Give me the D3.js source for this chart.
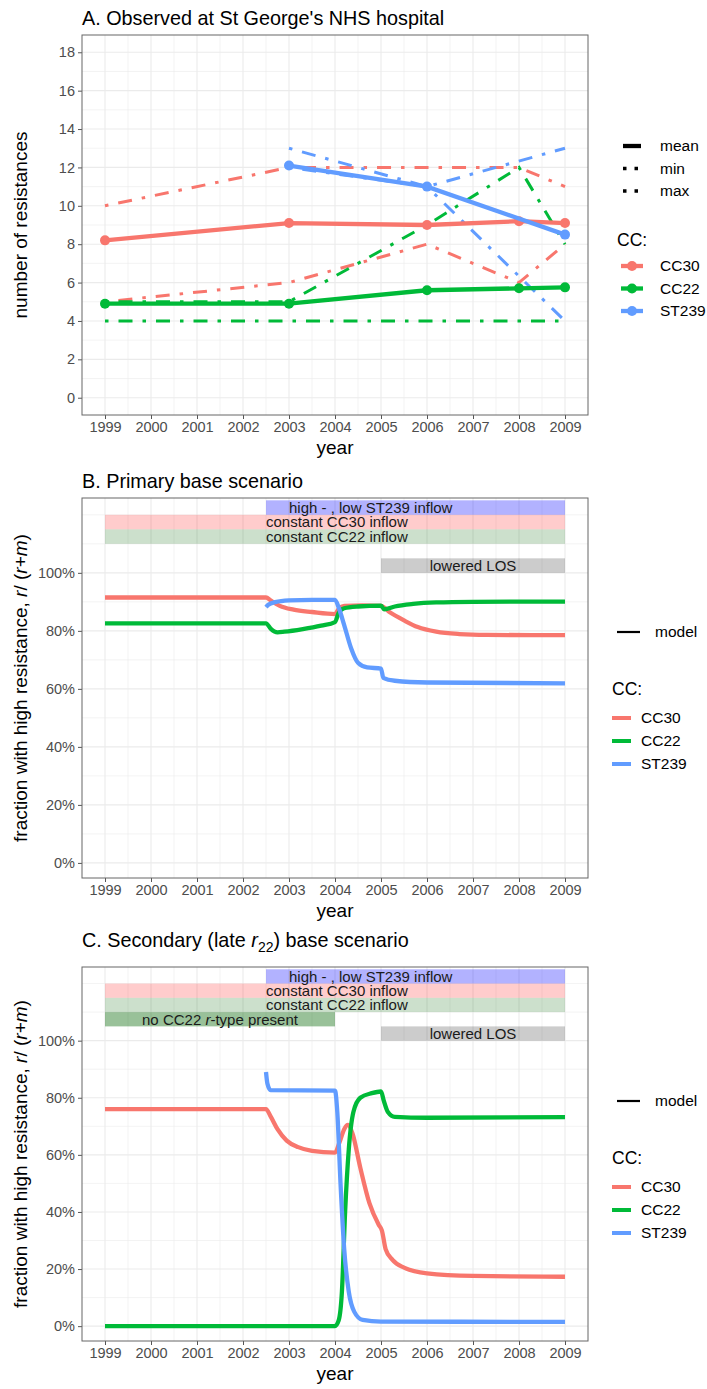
<!DOCTYPE html>
<html>
<head>
<meta charset="utf-8">
<script src="https://cdn.jsdelivr.net/npm/d3@7"></script>
<style>
  body { margin: 0; background: #fff; }
  text { font-family: "Liberation Sans", Arial, sans-serif; }
</style>
</head>
<body>
<div id="viz"></div>
<script>
// ---------- tick labels ----------
const yearTicks = [1999, 2000, 2001, 2002, 2003, 2004, 2005, 2006, 2007, 2008, 2009]
const countTicks = [0, 2, 4, 6, 8, 10, 12, 14, 16, 18]
const pctTicks = [0, 0.2, 0.4, 0.6, 0.8, 1.0]

const ccNames = ["CC30", "CC22", "ST239"]
const statNames = ["mean", "min", "max"]

// ---------- A. observed number of resistances ----------
const cc30Years = [1999, 2003, 2006, 2008, 2009]
const cc30Mean = [8.2, 9.1, 9.0, 9.2, 9.1]
const cc30Min = [5, 6, 8, 6, 8]
const cc30Max = [10, 12, 12, 12, 11]

const cc22Years = [1999, 2003, 2006, 2008, 2009]
const cc22Mean = [4.9, 4.9, 5.6, 5.7, 5.75]
const cc22Min = [4, 4, 4, 4, 4]
const cc22Max = [5, 5, 9, 12, 8]

const st239Years = [2003, 2006, 2009]
const st239Mean = [12.1, 11.0, 8.5]
const st239Min = [12, 11, 4]
const st239Max = [13, 11, 13]

// ---------- B. primary base scenario (model) ----------
const primaryCC30 = [[1999, 0.915], [2002.5, 0.915], [2002.6, 0.905], [2002.8, 0.886], [2003.1, 0.873],
  [2003.5, 0.865], [2004.0, 0.858], [2004.08, 0.875], [2004.2, 0.886], [2004.6, 0.888], [2005.0, 0.886],
  [2005.2, 0.863], [2005.5, 0.836], [2005.8, 0.813], [2006.2, 0.797], [2006.7, 0.789], [2007.3, 0.786], [2009, 0.785]]
const primaryCC22 = [[1999, 0.826], [2002.5, 0.826], [2002.6, 0.808], [2002.75, 0.795], [2002.9, 0.797],
  [2003.3, 0.806], [2003.7, 0.818], [2004.0, 0.830], [2004.08, 0.862], [2004.2, 0.878], [2004.5, 0.884],
  [2005.0, 0.887], [2005.07, 0.874], [2005.3, 0.884], [2005.7, 0.893], [2006.2, 0.898], [2007, 0.900], [2009, 0.901]]
const primaryST239 = [[2002.5, 0.882], [2002.55, 0.89], [2002.7, 0.899], [2003.0, 0.905], [2003.5, 0.907],
  [2004.0, 0.907], [2004.08, 0.88], [2004.2, 0.82], [2004.35, 0.74], [2004.5, 0.69], [2004.7, 0.674],
  [2005.0, 0.670], [2005.05, 0.638], [2005.3, 0.628], [2006, 0.622], [2009, 0.619]]

// ---------- C. secondary (late r22) base scenario (model) ----------
const secondaryCC30 = [[1999, 0.76], [2002.5, 0.76], [2002.6, 0.735], [2002.75, 0.69], [2002.95, 0.65],
  [2003.2, 0.627], [2003.5, 0.614], [2004.0, 0.608], [2004.1, 0.645], [2004.2, 0.69], [2004.28, 0.705],
  [2004.38, 0.675], [2004.55, 0.555], [2004.75, 0.43], [2004.95, 0.355], [2005.02, 0.335], [2005.1, 0.27],
  [2005.25, 0.232], [2005.5, 0.205], [2006.0, 0.185], [2007.0, 0.176], [2009, 0.173]]
const secondaryCC22 = [[1999, 0.0], [2004.0, 0.0], [2004.08, 0.02], [2004.15, 0.12], [2004.22, 0.4],
  [2004.3, 0.62], [2004.4, 0.75], [2004.55, 0.8], [2004.8, 0.816], [2005.0, 0.822], [2005.06, 0.79],
  [2005.15, 0.75], [2005.3, 0.733], [2006, 0.73], [2009, 0.732]]
const secondaryST239 = [[2002.5, 0.89], [2002.53, 0.85], [2002.6, 0.827], [2004.0, 0.825], [2004.05, 0.75],
  [2004.12, 0.5], [2004.2, 0.27], [2004.3, 0.12], [2004.42, 0.05], [2004.6, 0.022], [2005.0, 0.016], [2009, 0.015]]

// ---------- scenario bands (years, fraction) ----------
const bandText = ["high - , low ST239 inflow", "constant CC30 inflow", "constant CC22 inflow",
  "no CC22 r-type present", "lowered LOS"]
const bandFrom = [2002.5, 1999, 1999, 1999, 2005]
const bandTo = [2009, 2009, 2009, 2004, 2009]
const bandLow = [1.20, 1.15, 1.10, 1.05, 1.00]
const bandHigh = [1.25, 1.20, 1.15, 1.10, 1.05]
const bandLabelAt = [2003, 2002.5, 2002.5, 2001.5, 2007]

// ---------- styles ----------
const ccColors = ["#F8766D", "#00BA38", "#619CFF"]
const bandFill = ["rgba(0,0,255,0.3)", "rgba(255,0,0,0.2)", "rgba(0,100,0,0.2)", "rgba(0,100,0,0.4)", "rgba(0,0,0,0.2)"]
const bandAnchor = ["start", "start", "start", "middle", "middle"]
const dotdash = "3.5,10,14,10"

const width = 707
const height = 1389

const svg = d3.select("#viz").append("svg")
    .attr("width", width)
    .attr("height", height)

svg.append("rect").attr("width", width).attr("height", height).attr("fill", "#fff")

const x = d3.scaleLinear().domain([1998.5, 2009.5]).range([82, 588])
const xMinor = yearTicks.slice(0, -1).map(d => d + 0.5)

const yA = d3.scaleLinear().domain([-0.9, 18.9]).range([415, 35])
const yB = d3.scaleLinear().domain([-0.052, 1.258]).range([878, 498])
const yC = d3.scaleLinear().domain([-0.052, 1.258]).range([1341, 967])

const countMinor = [1, 3, 5, 7, 9, 11, 13, 15, 17]
const pctMinor = [0.1, 0.3, 0.5, 0.7, 0.9, 1.1, 1.2]

// grid and axes of one panel
function drawFrame(y, yTicks, yMinor, yFormat) {
    const [bottom, top] = y.range()
    const g = svg.append("g")

    g.selectAll("line.vmin").data(xMinor).join("line").attr("class", "vmin")
        .attr("x1", d => x(d)).attr("x2", d => x(d)).attr("y1", top).attr("y2", bottom)
        .attr("stroke", "#EBEBEB").attr("stroke-width", 0.6)
    g.selectAll("line.hmin").data(yMinor).join("line").attr("class", "hmin")
        .attr("x1", 82).attr("x2", 588).attr("y1", d => y(d)).attr("y2", d => y(d))
        .attr("stroke", "#EBEBEB").attr("stroke-width", 0.6)
    g.selectAll("line.vmaj").data(yearTicks).join("line").attr("class", "vmaj")
        .attr("x1", d => x(d)).attr("x2", d => x(d)).attr("y1", top).attr("y2", bottom)
        .attr("stroke", "#EBEBEB").attr("stroke-width", 1.1)
    g.selectAll("line.hmaj").data(yTicks).join("line").attr("class", "hmaj")
        .attr("x1", 82).attr("x2", 588).attr("y1", d => y(d)).attr("y2", d => y(d))
        .attr("stroke", "#EBEBEB").attr("stroke-width", 1.1)

    const xAxis = svg.append("g").attr("transform", `translate(0,${bottom})`)
        .call(d3.axisBottom(x).tickValues(yearTicks).tickFormat(d3.format("d")).tickSize(4).tickPadding(3))
    const yAxis = svg.append("g").attr("transform", "translate(82,0)")
        .call(d3.axisLeft(y).tickValues(yTicks).tickFormat(yFormat).tickSize(4).tickPadding(3))
    for (const ax of [xAxis, yAxis]) {
        ax.attr("font-family", null).attr("font-size", null)
        ax.select(".domain").remove()
        ax.selectAll(".tick line").attr("stroke", "#555")
        ax.selectAll(".tick text").attr("fill", "#4D4D4D").style("font-size", "14.5px")
    }
    return g
}

function drawBorder(y) {
    const [bottom, top] = y.range()
    svg.append("rect").attr("x", 82).attr("y", top).attr("width", 506).attr("height", bottom - top)
        .attr("fill", "none").attr("stroke", "#666").attr("stroke-width", 1)
}

function title(yPos, txt) {
    return svg.append("text").attr("x", 82).attr("y", yPos)
        .style("font-size", "19.8px").attr("fill", "#000").text(txt)
}

function xTitle(y) {
    svg.append("text").attr("x", 335).attr("y", y.range()[0] + 39)
        .attr("text-anchor", "middle").style("font-size", "19px").text("year")
}

// ================= Panel A =================
title(24.5, "A. Observed at St George's NHS hospital")
drawFrame(yA, countTicks, countMinor, d3.format("d"))

const obs = [
    { years: cc30Years, mean: cc30Mean, min: cc30Min, max: cc30Max },
    { years: cc22Years, mean: cc22Mean, min: cc22Min, max: cc22Max },
    { years: st239Years, mean: st239Mean, min: st239Min, max: st239Max }
]
const lineA = d3.line().x(d => x(d[0])).y(d => yA(d[1]))

const gA = svg.append("g")
obs.forEach((o, i) => {
    for (const s of ["max", "min"]) {
        gA.append("path").datum(d3.zip(o.years, o[s]))
            .attr("d", lineA).attr("fill", "none")
            .attr("stroke", ccColors[i]).attr("stroke-width", 3)
            .attr("stroke-dasharray", dotdash)
    }
})
obs.forEach((o, i) => {
    gA.append("path").datum(d3.zip(o.years, o.mean))
        .attr("d", lineA).attr("fill", "none")
        .attr("stroke", ccColors[i]).attr("stroke-width", 4.3)
    gA.selectAll(null).data(d3.zip(o.years, o.mean)).join("circle")
        .attr("cx", d => x(d[0])).attr("cy", d => yA(d[1])).attr("r", 5)
        .attr("fill", ccColors[i])
})
drawBorder(yA)

svg.append("text").attr("transform", "translate(27,225) rotate(-90)")
    .attr("text-anchor", "middle").style("font-size", "19px").text("number of resistances")
xTitle(yA)

// legend A
const legA = svg.append("g")
legA.selectAll("line.stat").data(statNames).join("line").attr("class", "stat")
    .attr("x1", 623).attr("x2", 641)
    .attr("y1", (d, i) => 146 + i * 22.5).attr("y2", (d, i) => 146 + i * 22.5)
    .attr("stroke", "#000").attr("stroke-width", (d, i) => i === 0 ? 4.3 : 3.5)
    .attr("stroke-dasharray", (d, i) => i === 0 ? null : "3.5,8,3.5,20")
legA.selectAll("text.stat").data(statNames).join("text").attr("class", "stat")
    .attr("x", 660).attr("y", (d, i) => 146 + i * 22.5).attr("dy", "0.35em")
    .style("font-size", "15.5px").text(d => d)
legA.append("text").attr("x", 617).attr("y", 246).style("font-size", "17.5px").text("CC:")
legA.selectAll("line.cc").data(ccNames).join("line").attr("class", "cc")
    .attr("x1", 621).attr("x2", 643)
    .attr("y1", (d, i) => 266 + i * 22.5).attr("y2", (d, i) => 266 + i * 22.5)
    .attr("stroke", (d, i) => ccColors[i]).attr("stroke-width", 4.3)
legA.selectAll("circle").data(ccNames).join("circle")
    .attr("cx", 632).attr("cy", (d, i) => 266 + i * 22.5).attr("r", 5)
    .attr("fill", (d, i) => ccColors[i])
legA.selectAll("text.cc").data(ccNames).join("text").attr("class", "cc")
    .attr("x", 660).attr("y", (d, i) => 266 + i * 22.5).attr("dy", "0.35em")
    .style("font-size", "15.5px").text(d => d)

// ================= Panels B and C =================
function drawBands(y, idx) {
    const g = svg.append("g")
    g.selectAll("rect").data(idx).join("rect")
        .attr("x", i => x(bandFrom[i])).attr("width", i => x(bandTo[i]) - x(bandFrom[i]))
        .attr("y", i => y(bandHigh[i])).attr("height", i => y(bandLow[i]) - y(bandHigh[i]))
        .attr("fill", i => bandFill[i])
    g.selectAll("text").data(idx).join("text")
        .attr("x", i => x(bandLabelAt[i]))
        .attr("y", i => y((bandLow[i] + bandHigh[i]) / 2)).attr("dy", "0.36em")
        .attr("text-anchor", i => bandAnchor[i])
        .style("font-size", "15px").attr("fill", "#1a1a1a")
        .each(function (i) {
            const t = d3.select(this)
            if (i === 3) {
                t.append("tspan").text("no CC22 ")
                t.append("tspan").style("font-style", "italic").text("r")
                t.append("tspan").text("-type present")
            } else {
                t.text(bandText[i])
            }
        })
}

function yPctTitle(y) {
    const [bottom, top] = y.range()
    const t = svg.append("text")
        .attr("transform", `translate(27,${(bottom + top) / 2}) rotate(-90)`)
        .attr("text-anchor", "middle").style("font-size", "19px")
    t.append("tspan").text("fraction with high resistance, ")
    t.append("tspan").style("font-style", "italic").text("r")
    t.append("tspan").text("/ (")
    t.append("tspan").style("font-style", "italic").text("r")
    t.append("tspan").text("+")
    t.append("tspan").style("font-style", "italic").text("m")
    t.append("tspan").text(")")
}

function drawModel(y, series) {
    const line = d3.line().x(d => x(d[0])).y(d => y(d[1])).curve(d3.curveMonotoneX)
    svg.append("g").selectAll("path").data(series).join("path")
        .attr("d", line).attr("fill", "none")
        .attr("stroke", (d, i) => ccColors[i]).attr("stroke-width", 4.3)
}

function modelLegend(top) {
    const g = svg.append("g")
    g.append("line").attr("x1", 617).attr("x2", 640).attr("y1", top + 134).attr("y2", top + 134)
        .attr("stroke", "#000").attr("stroke-width", 2.2)
    g.append("text").attr("x", 655).attr("y", top + 134).attr("dy", "0.35em")
        .style("font-size", "15.5px").text("model")
    g.append("text").attr("x", 612).attr("y", top + 197).style("font-size", "17.5px").text("CC:")
    g.selectAll("line.cc").data(ccNames).join("line").attr("class", "cc")
        .attr("x1", 612).attr("x2", 631)
        .attr("y1", (d, i) => top + 220 + i * 23).attr("y2", (d, i) => top + 220 + i * 23)
        .attr("stroke", (d, i) => ccColors[i]).attr("stroke-width", 4)
    g.selectAll("text.cc").data(ccNames).join("text").attr("class", "cc")
        .attr("x", 641).attr("y", (d, i) => top + 220 + i * 23).attr("dy", "0.35em")
        .style("font-size", "15.5px").text(d => d)
}

// Panel B
title(487.5, "B. Primary base scenario")
drawFrame(yB, pctTicks, pctMinor, d3.format(".0%"))
drawBands(yB, [0, 1, 2, 4])
drawModel(yB, [primaryCC30, primaryCC22, primaryST239])
drawBorder(yB)
yPctTitle(yB)
xTitle(yB)
modelLegend(498)

// Panel C
const tC = title(947, "C. Secondary (late ")
tC.append("tspan").style("font-style", "italic").text("r")
tC.append("tspan").attr("dy", 5).style("font-size", "14px").text("22")
tC.append("tspan").attr("dy", -5).text(") base scenario")
drawFrame(yC, pctTicks, pctMinor, d3.format(".0%"))
drawBands(yC, [0, 1, 2, 3, 4])
drawModel(yC, [secondaryCC30, secondaryCC22, secondaryST239])
drawBorder(yC)
yPctTitle(yC)
xTitle(yC)
modelLegend(967)
</script>
</body>
</html>
